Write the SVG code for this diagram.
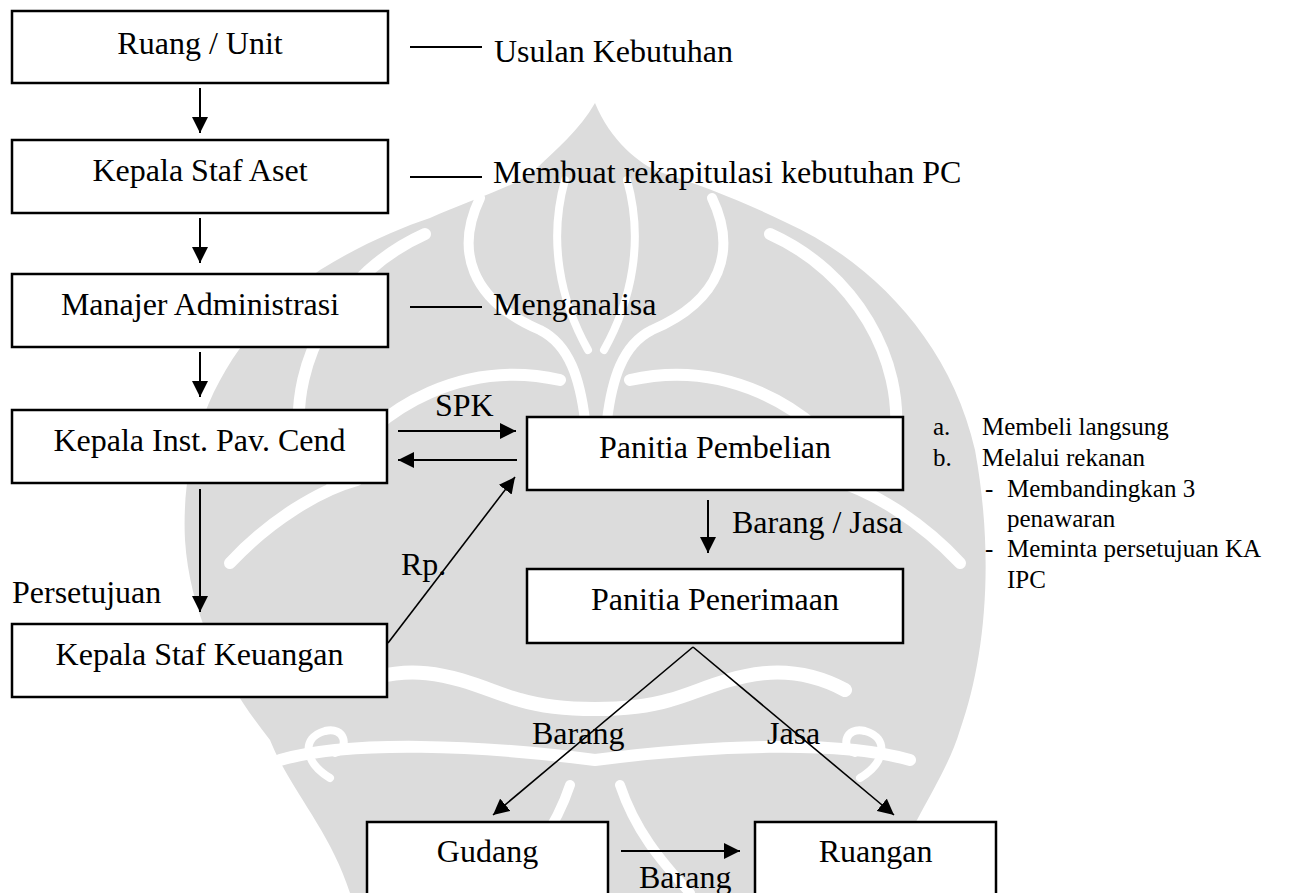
<svg xmlns="http://www.w3.org/2000/svg" width="1290" height="893" viewBox="0 0 1290 893">
  <defs>
    <marker id="ah" markerUnits="userSpaceOnUse" markerWidth="17" markerHeight="16" refX="16" refY="8" orient="auto" viewBox="0 0 17 16">
      <path d="M0,0 L16,8 L0,16 z" fill="#000"/>
    </marker>
  </defs>
  <style>
    .box{fill:#fff;stroke:#000;stroke-width:2.5}
    .lbl{font-family:"Liberation Serif","Times New Roman",serif;font-size:32px;fill:#000}
    .mid{text-anchor:middle}
    .list{font-family:"Liberation Serif","Times New Roman",serif;font-size:25px;fill:#000}
    .edge{stroke:#000;stroke-width:2;fill:none;marker-end:url(#ah)}
    .thin{stroke-width:1.6}
    .note{stroke:#000;stroke-width:2}
    .wm{fill:#dcdcdc}
    .wmc{fill:none;stroke:#fff;stroke-linecap:round;stroke-linejoin:round}
  </style>

  <rect width="1290" height="893" fill="#fff"/>

  <!-- faint background emblem -->
  <g id="watermark">
    <path class="wm" d="M595 103 C610 140 640 165 660 172 C700 185 740 200 785 222 C870 260 950 340 975 450 C995 560 985 660 960 730 C945 780 910 820 885 893 L350 893 C330 830 290 790 270 740 C230 690 190 620 185 540 C180 440 220 340 320 270 C360 245 400 228 430 218 C470 200 520 185 535 170 C555 150 580 130 595 103 Z"/>
    <path class="wmc" stroke-width="12" d="M425 234 C340 272 290 360 300 440"/>
    <path class="wmc" stroke-width="12" d="M770 234 C855 272 905 360 895 440"/>
    <path class="wmc" stroke-width="10" d="M480 198 C455 250 470 300 540 330 C570 345 580 380 585 420"/>
    <path class="wmc" stroke-width="10" d="M712 198 C737 250 722 300 652 330 C622 345 612 380 607 420"/>
    <path class="wmc" stroke-width="8" d="M565 180 C548 240 560 300 588 350"/>
    <path class="wmc" stroke-width="8" d="M627 180 C644 240 632 300 604 350"/>
    <path class="wmc" stroke-width="12" d="M330 480 C380 400 470 360 560 380"/>
    <path class="wmc" stroke-width="12" d="M860 480 C810 400 720 360 630 380"/>
    <path class="wmc" stroke-width="12" d="M230 563 C270 520 320 490 357 480"/>
    <path class="wmc" stroke-width="12" d="M960 563 C920 520 870 490 833 480"/>
    <path class="wmc" stroke-width="14" d="M345 690 C420 650 480 690 520 700 C560 712 630 712 670 700 C710 690 770 650 845 690"/>
    <path class="wmc" stroke-width="12" d="M280 760 C350 740 480 745 595 760 C710 745 840 740 910 760"/>
    <path class="wmc" stroke-width="8" d="M330 778 C305 763 300 738 325 731 C345 726 350 748 335 753"/>
    <path class="wmc" stroke-width="8" d="M860 778 C885 763 890 738 865 731 C845 726 840 748 855 753"/>
    <path class="wmc" stroke-width="10" d="M570 785 C555 830 530 860 500 893"/>
    <path class="wmc" stroke-width="10" d="M620 785 C635 830 660 860 690 893"/>
  </g>

  <!-- connectors and their labels -->
  <g id="connectors">
    <line class="edge" x1="200" y1="88" x2="200" y2="133"/>
    <line class="edge" x1="200" y1="218" x2="200" y2="263"/>
    <line class="edge" x1="200" y1="352" x2="200" y2="397"/>
    <line class="edge" x1="200" y1="489" x2="200" y2="612"/>
    <line class="edge" x1="398" y1="431" x2="516" y2="431"/>
    <line class="edge" x1="517" y1="460" x2="398" y2="460"/>
    <line class="edge thin" x1="388" y1="643" x2="515" y2="477"/>
    <line class="edge" x1="708" y1="500" x2="708" y2="553"/>
    <line class="edge thin" x1="693" y1="647" x2="493" y2="815"/>
    <line class="edge thin" x1="693" y1="647" x2="894" y2="815"/>
    <line class="edge" x1="621" y1="851" x2="740" y2="851"/>

    <text class="lbl" x="435" y="416">SPK</text>
    <text class="lbl" x="401" y="575">Rp.</text>
    <text class="lbl" x="12" y="603">Persetujuan</text>
    <text class="lbl" x="732" y="533">Barang / Jasa</text>
    <text class="lbl" x="532" y="744">Barang</text>
    <text class="lbl" x="767" y="744">Jasa</text>
    <text class="lbl" x="639" y="888">Barang</text>
  </g>

  <!-- side notes -->
  <g id="notes">
    <line class="note" x1="410" y1="47" x2="482" y2="47"/>
    <text class="lbl" x="494" y="62">Usulan Kebutuhan</text>
    <line class="note" x1="410" y1="177" x2="482" y2="177"/>
    <text class="lbl" x="493" y="183">Membuat rekapitulasi kebutuhan PC</text>
    <line class="note" x1="410" y1="307" x2="482" y2="307"/>
    <text class="lbl" x="493" y="315">Menganalisa</text>
  </g>

  <g id="purchase-options">
    <text class="list" x="933" y="435">a.</text>
    <text class="list" x="982" y="435">Membeli langsung</text>
    <text class="list" x="933" y="466">b.</text>
    <text class="list" x="982" y="466">Melalui rekanan</text>
    <text class="list" x="985" y="497">-</text>
    <text class="list" x="1007" y="497">Membandingkan 3</text>
    <text class="list" x="1007" y="527">penawaran</text>
    <text class="list" x="985" y="557">-</text>
    <text class="list" x="1007" y="557">Meminta persetujuan KA</text>
    <text class="list" x="1007" y="588">IPC</text>
  </g>

  <!-- nodes -->
  <g id="ruang-unit">
    <rect class="box" x="12" y="11" width="376" height="72"/>
    <text class="lbl mid" x="200" y="54">Ruang / Unit</text>
  </g>
  <g id="kepala-staf-aset">
    <rect class="box" x="12" y="140" width="376" height="73"/>
    <text class="lbl mid" x="200" y="181">Kepala Staf Aset</text>
  </g>
  <g id="manajer-administrasi">
    <rect class="box" x="12" y="274" width="376" height="73"/>
    <text class="lbl mid" x="200" y="315">Manajer Administrasi</text>
  </g>
  <g id="kepala-inst">
    <rect class="box" x="12" y="410" width="375" height="73"/>
    <text class="lbl mid" x="199.5" y="451">Kepala Inst. Pav. Cend</text>
  </g>
  <g id="kepala-staf-keuangan">
    <rect class="box" x="12" y="624" width="375" height="73"/>
    <text class="lbl mid" x="199.5" y="665">Kepala Staf Keuangan</text>
  </g>
  <g id="panitia-pembelian">
    <rect class="box" x="527" y="417" width="376" height="73"/>
    <text class="lbl mid" x="715" y="458">Panitia Pembelian</text>
  </g>
  <g id="panitia-penerimaan">
    <rect class="box" x="527" y="569" width="376" height="74"/>
    <text class="lbl mid" x="715" y="610">Panitia Penerimaan</text>
  </g>
  <g id="gudang">
    <rect class="box" x="367" y="822" width="241" height="100"/>
    <text class="lbl mid" x="487.5" y="862">Gudang</text>
  </g>
  <g id="ruangan">
    <rect class="box" x="755" y="822" width="241" height="100"/>
    <text class="lbl mid" x="875.5" y="862">Ruangan</text>
  </g>
</svg>
